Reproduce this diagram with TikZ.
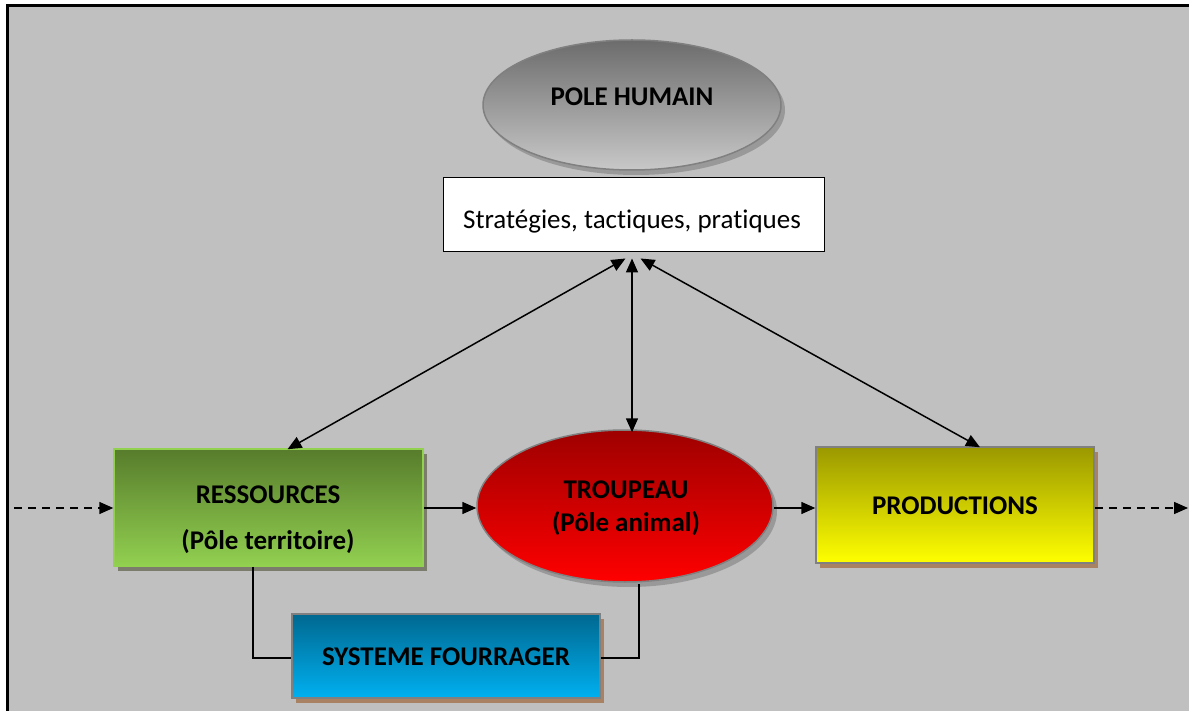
\documentclass[tikz,border=0pt]{standalone}
\usepackage{fontspec}
\setmainfont{Carlito}[Ligatures=NoCommon]
\usetikzlibrary{shapes.geometric,arrows.meta,shadows}
\definecolor{bgcol}{HTML}{C0C0C0}
\definecolor{edgegray}{HTML}{808080}
\definecolor{brownshadow}{HTML}{A88262}
\definecolor{oliveshadow}{HTML}{7C7C6C}
\definecolor{resedge}{HTML}{92D050}
\definecolor{restop}{HTML}{577C2C}
\definecolor{resbot}{HTML}{92D050}
\definecolor{prodtop}{HTML}{9A9800}
\definecolor{prodbot}{HTML}{FFFF00}
\definecolor{systop}{HTML}{006890}
\definecolor{sysbot}{HTML}{00B0F0}
\definecolor{troutop}{HTML}{9E0000}
\definecolor{troubot}{HTML}{FF0000}
\definecolor{humtop}{HTML}{6C6C6C}
\definecolor{humbot}{HTML}{C8C8C8}
\begin{document}
\begin{tikzpicture}[x=1pt,y=-1pt,
  every node/.style={font=\fontsize{27}{33}\selectfont},
  lbl/.style={font=\fontsize{27}{33}\selectfont\bfseries, align=center, inner sep=0pt},
  boxbase/.style={rectangle, line width=1.5pt, inner sep=0pt},
  resbox/.style={boxbase, draw=resedge, top color=restop, bottom color=resbot,
     drop shadow={shadow xshift=4pt, shadow yshift=-5pt, fill=oliveshadow, opacity=1}},
  prodbox/.style={boxbase, draw=edgegray, top color=prodtop, bottom color=prodbot,
     drop shadow={shadow xshift=4pt, shadow yshift=-5pt, fill=brownshadow, opacity=1}},
  sysbox/.style={boxbase, draw=edgegray, top color=systop, bottom color=sysbot,
     drop shadow={shadow xshift=4pt, shadow yshift=-5pt, fill=brownshadow, opacity=1}},
  ellbase/.style={ellipse, line width=1.5pt, draw=edgegray, inner sep=0pt,
     drop shadow={shadow xshift=4pt, shadow yshift=-5pt, fill=black, opacity=0.2}},
  conn/.style={line width=1.5pt, -{Triangle[length=14pt,width=12pt]}},
  bconn/.style={line width=1.5pt, {Triangle[length=14pt,width=12pt]}-{Triangle[length=14pt,width=12pt]}},
  dconn/.style={conn, dash pattern=on 8pt off 6pt},
  link/.style={line width=1.5pt}
]
\useasboundingbox (0,0) rectangle (1189,711);
\fill[white] (0,0) rectangle (1189,711);
\fill[bgcol] (8,6) rectangle (1189,711);
\draw[line width=2.5pt] (7.5,711) -- (7.5,5.5) -- (1189,5.5);

% shapes
\node[ellbase, top color=humtop, bottom color=humbot, minimum width=298pt, minimum height=130pt] (hum) at (632,105) {};
\node[lbl] (humt) at (632,97) {POLE HUMAIN};

\node[rectangle, draw=black, fill=white, line width=1pt, minimum width=381pt, minimum height=74pt, inner sep=0pt] (strat) at (633.5,215) {};
\node[inner sep=0pt] (stratt) at (632,222) {Stratégies, tactiques, pratiques};

\node[resbox, minimum width=309pt, minimum height=117pt] (res) at (268.5,507.5) {};
\node[lbl] (rest1) at (268,495) {RESSOURCES};
\node[lbl] (rest2) at (268,542) {(Pôle territoire)};

\node[ellbase, top color=troutop, bottom color=troubot, minimum width=296pt, minimum height=152pt] (trou) at (625,506) {};
\node[lbl] (trout) at (626,508) {TROUPEAU\\(Pôle animal)};

\node[prodbox, minimum width=278pt, minimum height=116pt] (prod) at (955,505) {};
\node[lbl] (prodt) at (955,506) {PRODUCTIONS};

\node[sysbox, minimum width=308pt, minimum height=84pt] (sys) at (446,656) {};
\node[lbl] (syst) at (446,657) {SYSTEME FOURRAGER};

% free ends
\coordinate (inL) at (14,508);
\coordinate (outR) at (1188,508);

% connectors
\draw[bconn] ([xshift=-8pt,yshift=-6pt]strat.south) -- ([xshift=19pt,yshift=-1pt]res.north);
\draw[bconn] ([xshift=-1.5pt,yshift=-6pt]strat.south) -- ([xshift=7pt,yshift=-3pt]trou.north);
\draw[bconn] ([xshift=7pt,yshift=-6pt]strat.south) -- ([xshift=25pt,yshift=-1pt]prod.north);

\draw[conn] (res.east |- 0,508) -- (trou.west |- 0,508);
\draw[conn] (trou.east |- 0,508) -- (prod.west |- 0,508);
\draw[dconn] (inL) -- (res.west |- inL);
\draw[dconn] (prod.east |- outR) -- (outR);

\draw[link] ([xshift=-15.5pt]res.south) |- (sys.west |- 0,658);
\draw[link] (sys.east |- 0,658) -| ([xshift=14pt,yshift=-1pt]trou.south);
\end{tikzpicture}
\end{document}
